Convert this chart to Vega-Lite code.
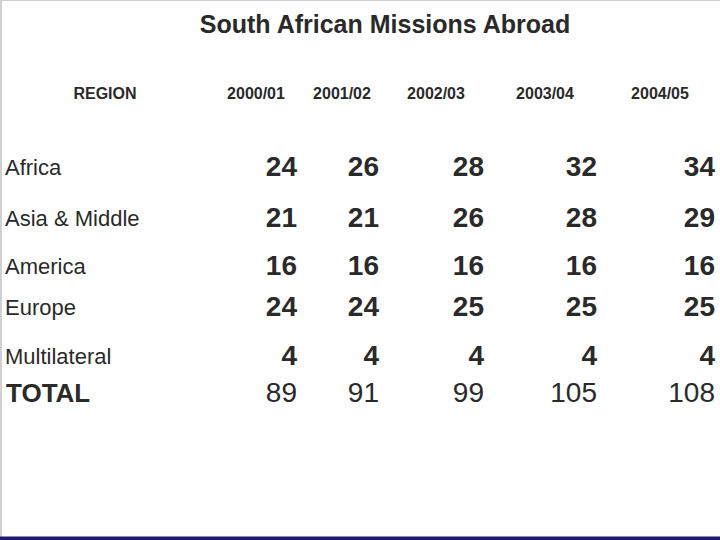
{
  "$schema": "https://vega.github.io/schema/vega-lite/v6.json",
  "width": 720,
  "height": 540,
  "autosize": "none",
  "padding": 0,
  "background": "white",
  "config": {"view": {"stroke": null}, "font": "'Liberation Sans Narrow', 'Arial Narrow', 'Liberation Sans', sans-serif"},
  "title": {
    "text": "South African Missions Abroad",
    "anchor": "middle",
    "dx": 25,
    "offset": -40,
    "font": "'Liberation Sans Narrow', 'Arial Narrow', 'Liberation Sans', sans-serif",
    "fontSize": 25,
    "fontWeight": "bold",
    "color": "#2a2a2a"
  },
  "datasets": {
    "headers": [
      {"label": "REGION", "col": 0, "row": 0},
      {"label": "2000/01", "col": 1, "row": 0},
      {"label": "2001/02", "col": 2, "row": 0},
      {"label": "2002/03", "col": 3, "row": 0},
      {"label": "2003/04", "col": 4, "row": 0},
      {"label": "2004/05", "col": 5, "row": 0}
    ],
    "regions": [
      {"region": "Africa", "row": 1},
      {"region": "Asia & Middle", "row": 2},
      {"region": "America", "row": 3},
      {"region": "Europe", "row": 4},
      {"region": "Multilateral", "row": 5},
      {"region": "TOTAL", "row": 6}
    ],
    "table": [
      {"region": "Africa", "row": 1, "period": "2000/01", "col": 1, "count": 24},
      {"region": "Africa", "row": 1, "period": "2001/02", "col": 2, "count": 26},
      {"region": "Africa", "row": 1, "period": "2002/03", "col": 3, "count": 28},
      {"region": "Africa", "row": 1, "period": "2003/04", "col": 4, "count": 32},
      {"region": "Africa", "row": 1, "period": "2004/05", "col": 5, "count": 34},
      {"region": "Asia & Middle", "row": 2, "period": "2000/01", "col": 1, "count": 21},
      {"region": "Asia & Middle", "row": 2, "period": "2001/02", "col": 2, "count": 21},
      {"region": "Asia & Middle", "row": 2, "period": "2002/03", "col": 3, "count": 26},
      {"region": "Asia & Middle", "row": 2, "period": "2003/04", "col": 4, "count": 28},
      {"region": "Asia & Middle", "row": 2, "period": "2004/05", "col": 5, "count": 29},
      {"region": "America", "row": 3, "period": "2000/01", "col": 1, "count": 16},
      {"region": "America", "row": 3, "period": "2001/02", "col": 2, "count": 16},
      {"region": "America", "row": 3, "period": "2002/03", "col": 3, "count": 16},
      {"region": "America", "row": 3, "period": "2003/04", "col": 4, "count": 16},
      {"region": "America", "row": 3, "period": "2004/05", "col": 5, "count": 16},
      {"region": "Europe", "row": 4, "period": "2000/01", "col": 1, "count": 24},
      {"region": "Europe", "row": 4, "period": "2001/02", "col": 2, "count": 24},
      {"region": "Europe", "row": 4, "period": "2002/03", "col": 3, "count": 25},
      {"region": "Europe", "row": 4, "period": "2003/04", "col": 4, "count": 25},
      {"region": "Europe", "row": 4, "period": "2004/05", "col": 5, "count": 25},
      {"region": "Multilateral", "row": 5, "period": "2000/01", "col": 1, "count": 4},
      {"region": "Multilateral", "row": 5, "period": "2001/02", "col": 2, "count": 4},
      {"region": "Multilateral", "row": 5, "period": "2002/03", "col": 3, "count": 4},
      {"region": "Multilateral", "row": 5, "period": "2003/04", "col": 4, "count": 4},
      {"region": "Multilateral", "row": 5, "period": "2004/05", "col": 5, "count": 4},
      {"region": "TOTAL", "row": 6, "period": "2000/01", "col": 1, "count": 89},
      {"region": "TOTAL", "row": 6, "period": "2001/02", "col": 2, "count": 91},
      {"region": "TOTAL", "row": 6, "period": "2002/03", "col": 3, "count": 99},
      {"region": "TOTAL", "row": 6, "period": "2003/04", "col": 4, "count": 105},
      {"region": "TOTAL", "row": 6, "period": "2004/05", "col": 5, "count": 108}
    ]
  },
  "layer": [
    {
      "data": {"values": [{}]},
      "mark": {"type": "rule", "stroke": "#d0d0d0", "strokeWidth": 2},
      "encoding": {"y": {"value": 0}}
    },
    {
      "data": {"values": [{}]},
      "mark": {"type": "rule", "stroke": "#d0d0d0", "strokeWidth": 4},
      "encoding": {"x": {"value": 0}}
    },
    {
      "data": {"values": [{}]},
      "mark": {"type": "rule", "stroke": "#1c1c6a", "strokeWidth": 7},
      "encoding": {"y": {"value": "height"}}
    },
    {
      "data": {"name": "headers"},
      "mark": {"type": "text", "align": "center", "baseline": "middle", "fontSize": 16, "fontWeight": "bold", "color": "#2a2a2a", "dy": 1},
      "encoding": {
        "x": {"field": "col", "type": "quantitative", "axis": null,
              "scale": {"domain": [0, 1, 2, 3, 4, 5], "range": [105, 256, 342, 436, 545, 660]}},
        "y": {"field": "row", "type": "quantitative", "axis": null,
              "scale": {"domain": [0, 1, 2, 3, 4, 5, 6], "range": [93, 166, 217, 265, 306, 355, 392]}},
        "text": {"field": "label"}
      }
    },
    {
      "data": {"name": "regions"},
      "transform": [{"filter": "datum.region !== 'TOTAL'"}],
      "mark": {"type": "text", "align": "left", "baseline": "middle", "fontSize": 22, "color": "#2a2a2a", "dx": 5, "dy": 2},
      "encoding": {
        "x": {"value": 0},
        "y": {"field": "row", "type": "quantitative", "axis": null,
              "scale": {"domain": [0, 1, 2, 3, 4, 5, 6], "range": [93, 166, 217, 265, 306, 355, 392]}},
        "text": {"field": "region"}
      }
    },
    {
      "data": {"name": "regions"},
      "transform": [{"filter": "datum.region === 'TOTAL'"}],
      "mark": {"type": "text", "align": "left", "baseline": "middle", "fontSize": 26, "fontWeight": "bold", "color": "#2a2a2a", "dx": 6, "dy": 2},
      "encoding": {
        "x": {"value": 0},
        "y": {"field": "row", "type": "quantitative", "axis": null,
              "scale": {"domain": [0, 1, 2, 3, 4, 5, 6], "range": [93, 166, 217, 265, 306, 355, 392]}},
        "text": {"field": "region"}
      }
    },
    {
      "data": {"name": "table"},
      "transform": [{"filter": "datum.region !== 'TOTAL'"}],
      "mark": {"type": "text", "align": "right", "baseline": "middle", "fontSize": 28, "fontWeight": "bold", "color": "#2a2a2a", "dy": 2},
      "encoding": {
        "x": {"field": "col", "type": "quantitative", "axis": null,
              "scale": {"domain": [1, 2, 3, 4, 5], "range": [297, 379, 484, 597, 715]}},
        "y": {"field": "row", "type": "quantitative", "axis": null,
              "scale": {"domain": [0, 1, 2, 3, 4, 5, 6], "range": [93, 166, 217, 265, 306, 355, 392]}},
        "text": {"field": "count"}
      }
    },
    {
      "data": {"name": "table"},
      "transform": [{"filter": "datum.region === 'TOTAL'"}],
      "mark": {"type": "text", "align": "right", "baseline": "middle", "fontSize": 28, "fontWeight": "normal", "color": "#2a2a2a", "dy": 2},
      "encoding": {
        "x": {"field": "col", "type": "quantitative", "axis": null,
              "scale": {"domain": [1, 2, 3, 4, 5], "range": [297, 379, 484, 597, 715]}},
        "y": {"field": "row", "type": "quantitative", "axis": null,
              "scale": {"domain": [0, 1, 2, 3, 4, 5, 6], "range": [93, 166, 217, 265, 306, 355, 392]}},
        "text": {"field": "count"}
      }
    }
  ],
  "resolve": {"scale": {"x": "independent"}}
}
